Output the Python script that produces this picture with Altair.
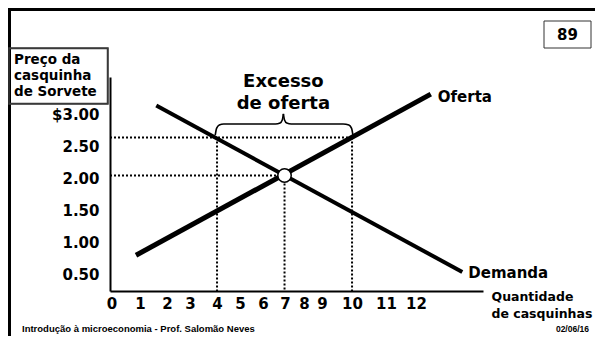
import altair as alt
import pandas as pd

# ---------------- data ----------------
x_ticks = list(range(13))                      # quantity tick labels 0..12
y_ticks = [0.5, 1.0, 1.5, 2.0, 2.5, 3.0]       # price tick labels
supply_q = [0.4, 13.5]
supply_p = [0.95, 3.07]
demand_q = [1.3, 14.9]
demand_p = [2.92, 0.73]
eq_q, eq_p = 7, 2.0                            # equilibrium
high_p = 2.5                                   # price above equilibrium
qd_high, qs_high = 4, 10                       # demanded / supplied at high price
brace_left_q = [3.92, 3.98, 4.1, 4.3, 6.6, 6.8, 6.9, 6.95]
brace_left_p = [2.53, 2.62, 2.665, 2.678, 2.678, 2.69, 2.73, 2.81]
brace_right_q = [6.95, 7.0, 7.1, 7.3, 9.6, 9.86, 9.98, 10.04]
brace_right_p = [2.81, 2.73, 2.69, 2.678, 2.678, 2.665, 2.62, 2.53]
x_title = ["Quantidade", "de casquinhas"]
y_title = ["Preço da", "casquinha", "de Sorvete"]
excess_label = ["Excesso", "de oferta"]
page_number = "89"
footer_left = "Introdução à microeconomia - Prof. Salomão Neves"
footer_right = "02/06/16"

X_DOMAIN = [-0.756, 15.82]
Y_DOMAIN = [0.48, 3.296]
FONT = "DejaVu Sans"

x_label_offsets = [-15.5, -9.5, -5, -4.5, 0, 0.5, 1, 0.5, -3, -7.5, 0, 11.5, 19]

x_axis = alt.Axis(
    values=x_ticks, ticks=False, grid=False, domainColor="black", domainWidth=2,
    labelFont=FONT, labelFontWeight="bold", labelFontSize=15, labelColor="black",
    labelPadding=5, labelFlush=False, labelOverlap=False,
    labelOffset=alt.ExprRef(expr="[" + ",".join(str(v) for v in x_label_offsets) + "][datum.value]"),
    title=x_title, titleFont=FONT, titleFontSize=12.5, titleFontWeight="bold", titleColor="black",
    titleAlign="left", titleBaseline="alphabetic", titleAngle=0, titleX=381, titleY=9,
    titleLineHeight=17,
)
y_axis = alt.Axis(
    values=y_ticks, ticks=False, grid=False, domainColor="black", domainWidth=2,
    labelFont=FONT, labelFontWeight="bold", labelFontSize=15, labelColor="black",
    labelPadding=11, labelFlush=False, labelOverlap=False,
    labelExpr="datum.value == 3 ? '$3.00' : format(datum.value, '.2f')",
    labelOffset=alt.ExprRef(expr="11.77*datum.value - 20.8"),
    title=None,
)


def X(field="q"):
    return alt.X(f"{field}:Q", scale=alt.Scale(domain=X_DOMAIN, nice=False, zero=False), axis=x_axis)


def Y(field="p"):
    return alt.Y(f"{field}:Q", scale=alt.Scale(domain=Y_DOMAIN, nice=False, zero=False), axis=y_axis)


one = pd.DataFrame({"a": [0]})


def hrule(x0, x1, y, color="black", width=1.0):
    return alt.Chart(one).mark_rule(color=color, strokeWidth=width).encode(
        x=alt.value(x0), x2=alt.value(x1), y=alt.value(y))


def vrule(x, y0, y1, color="black", width=1.0):
    return alt.Chart(one).mark_rule(color=color, strokeWidth=width).encode(
        x=alt.value(x), y=alt.value(y0), y2=alt.value(y1))


# slide decorations (pixel positions relative to plot origin)
frame_top = hrule(-102, 485, -67.5, width=3)
frame_left = vrule(-100.5, -69, 259, width=3)
box_outline = alt.Chart(one).mark_rect(fill="transparent", stroke="#3a3a3a", strokeWidth=1.5).encode(
    x=alt.value(-101), x2=alt.value(-2), y=alt.value(-29), y2=alt.value(27))
box_top = hrule(-101, -2, -28.5, color="#3a3a3a", width=1.5)
box_bottom = hrule(-101, -2, 26.5, color="#3a3a3a", width=1.5)
box_right = vrule(-2.5, -29, 27, color="#3a3a3a", width=1.5)
title_text = alt.Chart(one).mark_text(font=FONT, fontWeight="bold", fontSize=13.5, color="black",
                                      align="left", baseline="alphabetic", lineHeight=16).encode(
    x=alt.value(-96), y=alt.value(-13), text=alt.value(y_title))
page_box = alt.Chart(one).mark_rect(fill="white", stroke="#333333", strokeWidth=1).encode(
    x=alt.value(434), x2=alt.value(481), y=alt.value(-56), y2=alt.value(-29))
page_text = alt.Chart(one).mark_text(font=FONT, fontWeight="bold", fontSize=15, color="black",
                                     align="center", baseline="middle").encode(
    x=alt.value(457.5), y=alt.value(-42), text=alt.value(page_number))
foot_l = alt.Chart(one).mark_text(font="Liberation Sans", fontWeight="bold", fontSize=9.5, color="black",
                                  align="left", baseline="middle").encode(
    x=alt.value(-88), y=alt.value(252), text=alt.value(footer_left))
foot_r = alt.Chart(one).mark_text(font="Liberation Sans", fontWeight="bold", fontSize=8.5, color="black",
                                  align="right", baseline="middle").encode(
    x=alt.value(479), y=alt.value(252), text=alt.value(footer_right))

# dotted guide lines
x_min, y_min = X_DOMAIN[0], Y_DOMAIN[0]
guides = pd.DataFrame({
    "q": [x_min, x_min, qd_high, qs_high, eq_q],
    "q2": [qs_high, eq_q, qd_high, qs_high, eq_q],
    "p": [high_p, eq_p, high_p, high_p, eq_p],
    "p2": [high_p, eq_p, y_min, y_min, y_min],
})
guide_layer = alt.Chart(guides).mark_rule(color="black", strokeWidth=2, strokeDash=[2, 2]).encode(
    x=X(), x2="q2:Q", y=Y(), y2="p2:Q")

supply_df = pd.DataFrame({"q": supply_q, "p": supply_p})
demand_df = pd.DataFrame({"q": demand_q, "p": demand_p})
supply_line = alt.Chart(supply_df).mark_line(color="black", strokeWidth=5).encode(x=X(), y=Y())
demand_line = alt.Chart(demand_df).mark_line(color="black", strokeWidth=4).encode(x=X(), y=Y())

supply_lbl = alt.Chart(pd.DataFrame({"q": [supply_q[-1]], "p": [supply_p[-1]], "t": ["Oferta"]})).mark_text(
    font=FONT, fontWeight="bold", fontSize=15, color="black", align="left", baseline="alphabetic",
    dx=7, dy=8).encode(x=X(), y=Y(), text="t:N")
demand_lbl = alt.Chart(pd.DataFrame({"q": [demand_q[-1]], "p": [demand_p[-1]], "t": ["Demanda"]})).mark_text(
    font=FONT, fontWeight="bold", fontSize=15, color="black", align="left", baseline="alphabetic",
    dx=6, dy=6).encode(x=X(), y=Y(), text="t:N")

brace_df = pd.DataFrame({
    "q": brace_left_q + brace_right_q,
    "p": brace_left_p + brace_right_p,
    "half": ["l"] * len(brace_left_q) + ["r"] * len(brace_right_q),
})
brace = alt.Chart(brace_df).mark_line(color="black", strokeWidth=1.6, interpolate="monotone").encode(
    x=X(), y=Y(), detail="half:N")

excess = alt.Chart(pd.DataFrame({"q": [(qd_high + qs_high) / 2 - 0.05], "p": [3.165]})).mark_text(
    font=FONT, fontWeight="bold", fontSize=18, color="black", align="center", baseline="alphabetic",
    lineHeight=22).encode(x=X(), y=Y(), text=alt.value(excess_label))

eq_point = alt.Chart(pd.DataFrame({"q": [eq_q], "p": [eq_p]})).mark_point(
    shape="circle", size=180, filled=True, fill="white", stroke="black", strokeWidth=1.5, opacity=1).encode(
    x=X(), y=Y())

chart = alt.layer(
    guide_layer, supply_line, demand_line, brace, eq_point,
    supply_lbl, demand_lbl, excess,
    page_box, page_text, foot_l, foot_r,
    frame_top, frame_left, box_outline, box_top, box_bottom, box_right, title_text,
).properties(
    width=373, height=214,
    autosize=alt.AutoSizeParams(type="none"),
    padding={"left": 102, "top": 69, "right": 112, "bottom": 45},
    background="white",
).configure_view(stroke=None)

chart.save("out.html", embed_options={"renderer": "svg", "actions": False})
